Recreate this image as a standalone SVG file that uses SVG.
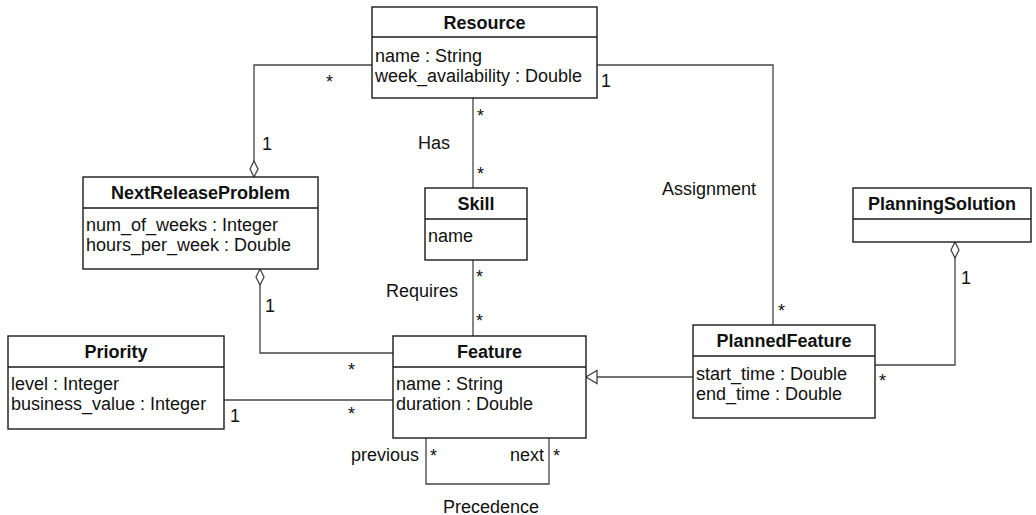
<svg xmlns="http://www.w3.org/2000/svg" width="1036" height="515" viewBox="0 0 1036 515">
<style>
.box{fill:#fff;stroke:#1a1a1a;stroke-width:1.4}
.div{stroke:#1a1a1a;stroke-width:1.4}
.t{font-family:"Liberation Sans",Arial,sans-serif;font-size:18px;fill:#111}
.b{font-weight:bold;text-anchor:middle}
.c{text-anchor:middle}
.e{text-anchor:end}
.ln{fill:none;stroke:#444;stroke-width:1.3}
.dia{fill:#fff;stroke:#444;stroke-width:1.3}
</style>
<rect width="1036" height="515" fill="#fff"/>
<g id="connectors">
<path class="ln" d="M372,65 H254 V161"/>
<path class="dia" d="M254,177 L258,169 L254,161 L250,169 Z"/>
<path class="ln" d="M473,98 V188"/>
<path class="ln" d="M597,65 H773 V325"/>
<path class="ln" d="M473,260 V336"/>
<path class="ln" d="M260,285 V353 H393"/>
<path class="dia" d="M260,269 L264,277 L260,285 L256,277 Z"/>
<path class="ln" d="M224,400 H393"/>
<path class="ln" d="M693,377 H597"/>
<path class="dia" d="M586,377 L597,370.5 L597,383.5 Z"/>
<path class="ln" d="M955,258 V365 H875"/>
<path class="dia" d="M955,242 L959,250 L955,258 L951,250 Z"/>
<path class="ln" d="M426,438 V484 H549 V438"/>
<text class="t" x="326" y="88">*</text>
<text class="t" x="262" y="150">1</text>
<text class="t" x="477" y="122">*</text>
<text class="t c" x="434" y="149">Has</text>
<text class="t" x="477" y="180">*</text>
<text class="t" x="601" y="87">1</text>
<text class="t c" x="709" y="195">Assignment</text>
<text class="t" x="778" y="317">*</text>
<text class="t" x="476" y="283">*</text>
<text class="t c" x="422" y="297">Requires</text>
<text class="t" x="476" y="327">*</text>
<text class="t" x="265" y="312">1</text>
<text class="t" x="348" y="376">*</text>
<text class="t" x="348" y="420">*</text>
<text class="t" x="230" y="422">1</text>
<text class="t" x="961" y="284">1</text>
<text class="t" x="879" y="387">*</text>
<text class="t e" x="419" y="461">previous</text>
<text class="t" x="430" y="462">*</text>
<text class="t e" x="544" y="461">next</text>
<text class="t" x="553" y="462">*</text>
<text class="t c" x="491" y="513">Precedence</text>
</g>
<g id="Resource">
<rect class="box" x="372" y="7" width="225" height="91"/>
<line class="div" x1="372" y1="37" x2="597" y2="37"/>
<text class="t b" x="484.5" y="29">Resource</text>
<text class="t" x="375" y="61.5">name : String</text>
<text class="t" x="375" y="81.5">week_availability : Double</text>
</g>
<g id="NextReleaseProblem">
<rect class="box" x="83" y="177" width="235" height="92"/>
<line class="div" x1="83" y1="208" x2="318" y2="208"/>
<text class="t b" x="200.5" y="199">NextReleaseProblem</text>
<text class="t" x="86" y="231">num_of_weeks : Integer</text>
<text class="t" x="86" y="251">hours_per_week : Double</text>
</g>
<g id="Skill">
<rect class="box" x="425" y="188" width="102" height="72"/>
<line class="div" x1="425" y1="219" x2="527" y2="219"/>
<text class="t b" x="476" y="210">Skill</text>
<text class="t" x="428" y="242">name</text>
</g>
<g id="PlanningSolution">
<rect class="box" x="853" y="188" width="178" height="54"/>
<line class="div" x1="853" y1="219" x2="1031" y2="219"/>
<text class="t b" x="942" y="210">PlanningSolution</text>
</g>
<g id="Priority">
<rect class="box" x="8" y="336" width="216" height="93"/>
<line class="div" x1="8" y1="367" x2="224" y2="367"/>
<text class="t b" x="116" y="358">Priority</text>
<text class="t" x="11" y="390">level : Integer</text>
<text class="t" x="11" y="410">business_value : Integer</text>
</g>
<g id="Feature">
<rect class="box" x="393" y="336" width="193" height="102"/>
<line class="div" x1="393" y1="367" x2="586" y2="367"/>
<text class="t b" x="489.5" y="358">Feature</text>
<text class="t" x="396" y="390">name : String</text>
<text class="t" x="396" y="410">duration : Double</text>
</g>
<g id="PlannedFeature">
<rect class="box" x="693" y="325" width="182" height="93"/>
<line class="div" x1="693" y1="356" x2="875" y2="356"/>
<text class="t b" x="784" y="347">PlannedFeature</text>
<text class="t" x="696" y="379.5">start_time : Double</text>
<text class="t" x="696" y="399.5">end_time : Double</text>
</g>
</svg>
